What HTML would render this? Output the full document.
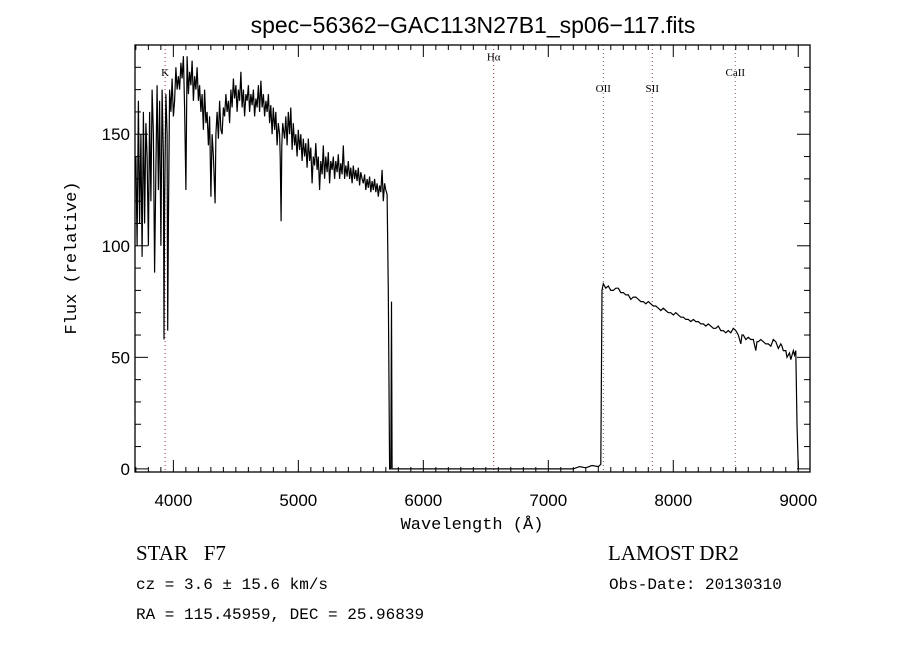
<!DOCTYPE html>
<html><head><meta charset="utf-8"><style>
body{margin:0;background:#fff;width:900px;height:650px;overflow:hidden}
svg text{font-family:"Liberation Sans",sans-serif;fill:#000}
</style></head><body>
<svg id="chart" width="900" height="650" viewBox="0 0 900 650" xmlns="http://www.w3.org/2000/svg">
<rect width="900" height="650" fill="#fff"/>
<text x="473" y="33" text-anchor="middle" font-size="23">spec−56362−GAC113N27B1_sp06−117.fits</text>
<text x="472" y="529" text-anchor="middle" font-size="17" style="font-family:'Liberation Mono',monospace">Wavelength (Å)</text>
<text transform="translate(76,258) rotate(-90)" text-anchor="middle" font-size="17" style="font-family:'Liberation Mono',monospace">Flux (relative)</text>
<text x="136" y="560" font-size="21" style="font-family:'Liberation Serif',serif">STAR &#160;&#160;F7</text>
<text x="136" y="589" font-size="16" style="font-family:'Liberation Mono',monospace">cz = 3.6 ± 15.6 km/s</text>
<text x="136" y="619" font-size="16" style="font-family:'Liberation Mono',monospace">RA = 115.45959, DEC =  25.96839</text>
<text x="608" y="560" font-size="21" style="font-family:'Liberation Serif',serif">LAMOST DR2</text>
<text x="609" y="589" font-size="16" style="font-family:'Liberation Mono',monospace">Obs-Date: 20130310</text>
<g id="plot"></g>
</svg>
<script>
const wavelengths=[3700,3710,3720,3730,3740,3750,3760,3770,3780,3790,3800,3810,3820,3830,3840,3850,3860,3870,3880,3890,3900,3910,3920,3925,3930,3940,3950,3955,3960,3970,3980,3990,4000,4010,4020,4030,4040,4050,4060,4070,4080,4090,4100,4110,4120,4130,4140,4150,4160,4170,4180,4190,4200,4210,4220,4230,4240,4250,4260,4270,4280,4290,4300,4310,4320,4334,4340,
4350,4360,4370,4380,4390,4400,4410,4420,4430,4440,4450,4460,4470,4480,4490,4500,4510,4520,4530,4540,4550,4560,4570,4580,4590,4600,4610,4620,4630,4640,4650,4660,4670,4680,4690,4700,4710,4720,4730,4740,4750,4760,4770,4780,4790,4800,4810,4820,4830,4840,4850,4855,4862,4868,4875,4890,4900,4910,4920,4930,4940,4950,4960,4970,4980,4990,5000,5010,5020,5030,5040,5050,5060,5070,5080,5090,5100,5110,5120,5130,5140,5150,5160,5170,5180,5190,5200,5210,5220,5230,5240,5250,5260,5270,5280,5290,5300,5310,5320,5330,5340,5350,5360,5370,5380,5390,5400,5410,5420,5430,5440,5450,5460,5470,5480,5490,5500,5510,5520,5530,5540,5550,5560,5570,5580,5590,5600,5610,5620,5630,5640,5650,5660,5670,5680,5690,5700,5710,
5720,5730,5740,5745,5750,5760,6000,6500,7000,7200,7250,7300,7350,7400,7420,7430,7440,7460,7480,7500,7520,7540,7560,7580,7600,7620,7640,7660,7680,7700,7720,7740,7760,7780,7800,7820,7840,7860,7880,7900,7920,7940,7960,7980,8000,8020,8040,8060,8080,8100,8120,8140,8160,8180,8200,8220,8240,8260,8280,8300,8320,8340,8360,8380,8400,8420,8440,8460,8480,8500,8520,8540,8550,8560,8580,8600,8620,8640,8660,8670,8680,8700,8720,8740,8760,8780,8800,8820,8840,8860,8870,8880,8900,8910,8930,8940,8960,8970,8980,8990,9000];
const fluxes=[140,100,165,110,150,95,160,110,155,140,100,160,120,170,150,88,135,172,125,165,100,170,140,58,120,168,150,62,110,170,160,175,158,165,180,170,176,170,182,175,185,162,125,185,168,178,172,183,165,176,170,180,165,172,160,168,152,170,155,160,145,158,122,150,140,119,150,
160,148,165,152,150,162,158,168,160,165,155,170,162,175,166,172,160,170,165,178,162,170,158,168,165,172,160,168,163,170,158,166,162,172,160,174,162,168,158,165,160,168,155,163,150,162,152,160,145,155,150,140,111,145,155,148,158,145,160,150,162,143,155,145,150,140,152,143,150,138,148,140,146,135,148,138,144,128,140,136,146,134,140,125,138,132,145,130,140,133,142,128,138,134,140,130,138,133,141,130,137,132,145,130,136,131,138,130,135,128,136,130,134,129,135,127,133,130,128,132,125,130,126,131,124,129,125,130,124,128,122,127,124,134,120,128,125,123,
80,0,0,75,0,0,0,0,0,0,1,0.5,1.5,1,2,80,83,81,82,80,80,81,81,79,79,78,78,76,77,77,76,75,75,74,75,74,73,73,72,71,72,71,70,70,69,70,69,68,68,67,67,66,67,66,66,65,65,64,65,64,63,63,64,62,62,61,62,61,63,62,60,56,60,60,58,59,58,58,53,57,57,58,57,56,56,55,58,57,54,56,55,53,53,50,52,49,53,51,53,20,0];
const xTicks=[4000,5000,6000,7000,8000,9000];
const yTicks=[0,50,100,150];
const lineNames=["K","Hα","OII","SII","CaII"];
const lineWaves=[3934,6563,7440,7832,8496];
const lineLabelFlux=[176,183,169,169,176];

const L=135,R=810,T=45,B=472,XMIN=3693,XMAX=9094,YMIN=-1.4,YMAX=190;
const sx=v=>L+(v-XMIN)/(XMAX-XMIN)*(R-L);
const sy=v=>B-(v-YMIN)/(YMAX-YMIN)*(B-T);
const NS="http://www.w3.org/2000/svg";
const g=document.getElementById('plot');
function mk(tag,attrs){const e=document.createElementNS(NS,tag);for(const k in attrs)e.setAttribute(k,attrs[k]);g.appendChild(e);return e;}

lineWaves.forEach((w,i)=>{
  const ln=mk('line',{x1:sx(w),x2:sx(w),y1:T,y2:B,stroke:i===0||i===1||i===3?'#a03030':'#806060','stroke-width':1,'stroke-dasharray':'1,3'});
  
  
  const t=mk('text',{x:sx(w),y:sy(lineLabelFlux[i]),'text-anchor':'middle','font-size':11,style:"font-family:'Liberation Serif',serif"});
  t.textContent=lineNames[i];
  
  
});

let d='';
wavelengths.forEach((w,i)=>{d+=(i?'L':'M')+sx(w).toFixed(1)+','+sy(fluxes[i]).toFixed(1);});
const p=mk('path',{d:d,fill:'none',stroke:'#000','stroke-width':1.2});



const fr=mk('rect',{x:L,y:T,width:R-L,height:B-T,fill:'none',stroke:'#000','stroke-width':1.3});



for(let w=3700;w<=9000;w+=100){
  const major=w%1000===0, len=major?12:5;
  const a=mk('line',{x1:sx(w),x2:sx(w),y1:B,y2:B-len,stroke:'#000'});
  
  
  const b=mk('line',{x1:sx(w),x2:sx(w),y1:T,y2:T+len,stroke:'#000'});
  
  
}
xTicks.forEach(w=>{
  const t=mk('text',{x:sx(w),y:B+34,'text-anchor':'middle','font-size':17});
  t.textContent=w;
  
  
});
for(let v=0;v<=190;v+=10){
  const major=v%50===0, len=major?13:6;
  const a=mk('line',{x1:L,x2:L+len,y1:sy(v),y2:sy(v),stroke:'#000'});
  
  
  const b=mk('line',{x1:R,x2:R-len,y1:sy(v),y2:sy(v),stroke:'#000'});
  
  
}
yTicks.forEach(v=>{
  const t=mk('text',{x:L-5,y:sy(v)+6,'text-anchor':'end','font-size':17});
  t.textContent=v;
  
  
});
</script>
</body></html>
